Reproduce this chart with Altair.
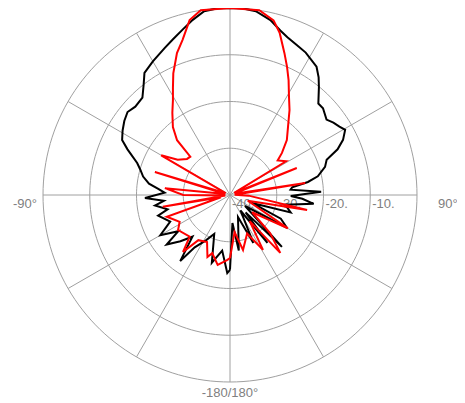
import altair as alt
import pandas as pd

# ---- data (angle in degrees, clockwise from top; level in dB) ----
black_angle = [-180, -178, -172, -165, -158, -152, -146, -143, -138, -133, -128, -125, -120, -114,
               -106, -103, -98, -95, -92, -88, -85, -82, -78, -74, -71, -66, -63, -59, -55, -51,
               -47, -42, -38, -35, -30, -24, -20, -16, -12, -8, -4, 0, 4, 8, 13, 17, 20, 24, 28,
               34, 37, 39.5, 44, 47, 52, 55, 58, 60.5, 64, 67, 70, 73.5, 78, 80.5, 83, 85, 88, 91,
               93, 96, 100, 106, 110, 115, 120, 126, 135, 138, 142, 146, 154, 160, 171, 175, 180]
black_db = [-24, -23.3, -28, -25, -31, -29, -26.5, -22.3, -28, -25.5, -22.8, -26.5, -22.8, -26,
            -24, -26.3, -23.8, -25.8, -21.8, -26, -24.5, -22.5, -21, -20, -19, -16, -14.1, -13.2, -12.4, -11.8,
            -12.3, -12, -10, -8.1, -7, -5.6, -4.5, -3.2, -1.7, -0.3, 0, 0, 0, -0.3, -1.6, -3.2, -4.1, -4.9, -5.5,
            -6.9, -8.5, -10.1, -12.8, -12.8, -13.8, -13, -12.4, -11.7, -13.1, -15, -18, -18.8, -20.8, -23.1, -26.6, -27, -20.5, -27,
            -24.5, -22, -28, -26.5, -35, -28, -25.9, -36, -24.3, -35, -27, -36, -28.6, -35, -28, -34, -24]

red_angle = [-180, -177, -170, -163, -160, -154, -145, -140.5, -136, -124, -118, -109, -104, -100,
             -95, -90, -84, -79, -73, -67, -60, -56, -50, -46, -44, -40, -35, -31, -28, -25, -20.5,
             -17, -13, -9, 0, 9, 14, 17, 21, 24, 27, 31, 35, 40.5, 46, 51, 54, 59, 63, 68, 73, 81,
             86, 92, 101, 108, 120, 128, 133.5, 139, 143, 149, 156, 166.7, 173, 180]
red_db = [-26.5, -26, -24.8, -27, -25.9, -28.8, -28.2, -24.2, -27.6, -26.6, -27.8, -25.7, -38, -25.4,
          -39, -30, -26, -39, -23.2, -39, -23, -26.5, -28, -28.2, -23.7, -21, -18.5, -16.3, -14, -11.3, -7.6,
          -5.3, -1.6, 0, 0, 0, -1.5, -3.7, -7.5, -10, -12.4, -15.5, -17.8, -20.9, -23.1, -25.7, -27.4, -26, -39, -24.6, -39, -23.7,
          -39, -36, -23.2, -36, -25.7, -34, -28.2, -23.6, -33, -26.3, -31, -27.9, -32, -26.5]

ring_db = [-30, -20, -10, 0]
ring_label_db = [-40, -30, -20, -10]
ring_label_text = ["-40.", "-30.", "-20.", "-10."]
spoke_angles = list(range(0, 360, 30))
circle_steps = list(range(0, 361, 2))
DB_MIN, DB_MAX = -40, 0

# ---- tables ----
black_df = pd.DataFrame({"angle": black_angle, "db": black_db, "i": range(len(black_angle))})
red_df = pd.DataFrame({"angle": red_angle, "db": red_db, "i": range(len(red_angle))})
circle_df = pd.DataFrame([{"ring": r, "angle": a, "db": r} for r in ring_db for a in circle_steps])
spoke_df = pd.DataFrame({"angle": spoke_angles, "db": [DB_MAX] * len(spoke_angles)})
rlab_df = pd.DataFrame({"db": ring_label_db, "angle": [90] * 4, "text": ring_label_text})

r_expr = f"(datum.db - ({DB_MIN})) / ({DB_MAX} - ({DB_MIN}))"


def polar(ch):
    return ch.transform_calculate(r=r_expr).transform_calculate(
        x="datum.r * sin(datum.angle * PI / 180)",
        y="datum.r * cos(datum.angle * PI / 180)",
    )


xs = alt.Scale(domain=[-1, 1])
ys = alt.Scale(domain=[-1, 1])
X = alt.X("x:Q", scale=xs, axis=None)
Y = alt.Y("y:Q", scale=ys, axis=None)

grid_color = "#a0a0a0"
label_color = "#808080"
FONT = "Liberation Sans"

circles = polar(alt.Chart(circle_df)).mark_line(color=grid_color, strokeWidth=1).encode(
    x=X, y=Y, detail="ring:N", order="angle:Q")

spokes = polar(alt.Chart(spoke_df)).mark_rule(color=grid_color, strokeWidth=1).encode(
    x=alt.X("zero:Q", scale=xs, axis=None), y=alt.Y("zero:Q", scale=ys, axis=None),
    x2="x:Q", y2="y:Q").transform_calculate(zero="0")

ring_labels = polar(alt.Chart(rlab_df)).mark_text(
    align="left", baseline="middle", dx=2, dy=9, font=FONT, fontSize=13, color=label_color
).encode(x=X, y=Y, text="text:N")

lab_left = alt.Chart(pd.DataFrame({"x": [-1], "y": [0], "text": ["-90°"]})).mark_text(
    align="right", baseline="middle", dx=-6, dy=9, font=FONT, fontSize=13, color=label_color
).encode(x=X, y=Y, text="text:N")
lab_right = alt.Chart(pd.DataFrame({"x": [1], "y": [0], "text": ["90°"]})).mark_text(
    align="left", baseline="middle", dx=21, dy=9, font=FONT, fontSize=13, color=label_color
).encode(x=X, y=Y, text="text:N")
lab_bottom = alt.Chart(pd.DataFrame({"x": [0], "y": [-1], "text": ["-180/180°"]})).mark_text(
    align="center", baseline="middle", dy=11, font=FONT, fontSize=13, color=label_color
).encode(x=X, y=Y, text="text:N")

black_line = polar(alt.Chart(black_df)).mark_line(color="#000000", strokeWidth=2).encode(
    x=X, y=Y, order="i:Q")
red_line = polar(alt.Chart(red_df)).mark_line(color="#ff0000", strokeWidth=2).encode(
    x=X, y=Y, order="i:Q")

chart = alt.layer(
    circles, spokes, ring_labels, lab_left, lab_right, lab_bottom, black_line, red_line
).properties(
    width=374, height=374,
    autosize=alt.AutoSizeParams(type="none"),
    padding={"left": 35, "top": 0, "right": 40, "bottom": 20},
    background="white",
).configure_view(stroke=None)

chart.save("out.html", embed_options={"renderer": "svg", "actions": False})
